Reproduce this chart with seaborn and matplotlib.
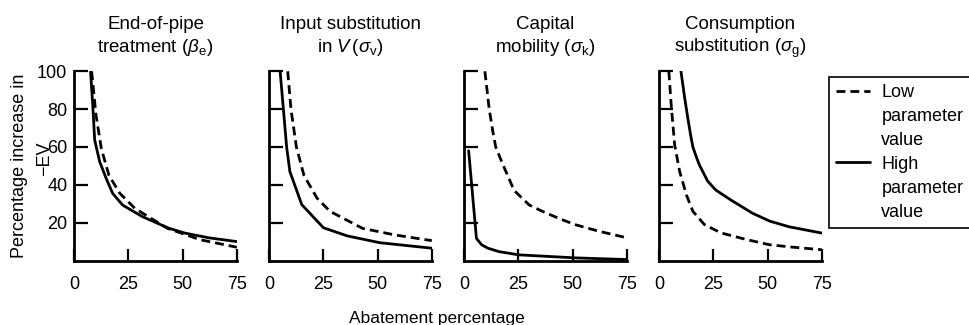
import matplotlib
matplotlib.use("Agg")
import matplotlib.pyplot as plt
from matplotlib.lines import Line2D
import seaborn as sns
import pandas as pd

# ---------------- data ----------------
panel_titles = [
    "End-of-pipe\ntreatment ($\\beta_\\mathrm{e}$)",
    "Input substitution\nin $V\\,(\\sigma_\\mathrm{v})$",
    "Capital\nmobility ($\\sigma_\\mathrm{k}$)",
    "Consumption\nsubstitution ($\\sigma_\\mathrm{g}$)",
]

# End-of-pipe treatment
p1_low_x = [8, 10, 12.5, 16, 21, 28, 43, 58, 75]
p1_low_y = [100, 77, 59, 45, 35.5, 27.5, 17, 11, 7]
p1_high_x = [7.5, 8.6, 9.4, 11.7, 14.7, 17.7, 22.3, 31.4, 43.5, 51, 62, 75]
p1_high_y = [100, 80.6, 63.7, 52.3, 43.4, 35.5, 29.3, 23.2, 17.1, 14.5, 12, 10]

# Input substitution in V
p2_low_x = [8.5, 10, 12.5, 16, 22, 28, 43, 58, 75]
p2_low_y = [100, 80, 60, 45, 33, 26, 17, 13.5, 10.5]
p2_high_x = [5, 6.5, 8, 9.5, 15, 25, 36, 51, 75]
p2_high_y = [100, 80, 60, 47, 29.5, 17.3, 13, 9.4, 6.5]

# Capital mobility
p3_low_x = [9.5, 11.5, 13.2, 14.5, 17.7, 23, 30, 36, 43.5, 51, 62, 75]
p3_low_y = [100, 80, 68, 60, 51, 37, 29.3, 26, 22.3, 19, 15.5, 12]
p3_high_x = [2, 5.6, 8, 10.9, 16, 25, 51, 75]
p3_high_y = [58, 11.7, 8.3, 6.5, 4.7, 3.0, 1.4, 0.5]

# Consumption substitution
p4_low_x = [4.4, 5.6, 7.1, 9.4, 12.5, 15.5, 20.8, 28.4, 40.5, 51, 62, 75]
p4_low_y = [100, 80.6, 61, 47, 34.7, 26, 19, 14.6, 11, 8.3, 7, 5.7]
p4_high_x = [10, 11.7, 13.2, 14.5, 15.5, 17, 18.5, 22.3, 26, 33, 43, 51, 60, 75]
p4_high_y = [100, 86, 75, 66, 60, 55, 50.5, 42, 37.3, 32, 25, 20.8, 17.8, 14.5]

x_ticks = [0, 25, 50, 75]
y_ticks = [20, 40, 60, 80, 100]
series_names = ["Low", "High"]

panels = [
    (p1_low_x, p1_low_y, p1_high_x, p1_high_y),
    (p2_low_x, p2_low_y, p2_high_x, p2_high_y),
    (p3_low_x, p3_low_y, p3_high_x, p3_high_y),
    (p4_low_x, p4_low_y, p4_high_x, p4_high_y),
]

rows = []
for i, (lx, ly, hx, hy) in enumerate(panels):
    for x, y in zip(lx, ly):
        rows.append({"panel": i, "series": "Low", "x": x, "y": y})
    for x, y in zip(hx, hy):
        rows.append({"panel": i, "series": "High", "x": x, "y": y})
df = pd.DataFrame(rows)

# ---------------- style ----------------
sns.set_theme(style="ticks")
plt.rcParams["font.family"] = ["Liberation Sans", "DejaVu Sans"]
plt.rcParams["mathtext.fontset"] = "custom"
plt.rcParams["mathtext.rm"] = "Liberation Sans"
plt.rcParams["mathtext.it"] = "Liberation Sans:italic"
plt.rcParams["mathtext.bf"] = "Liberation Sans:bold"
plt.rcParams["text.color"] = "black"
plt.rcParams["axes.labelcolor"] = "black"
plt.rcParams["xtick.color"] = "black"
plt.rcParams["ytick.color"] = "black"

FS = 13
W, H = 969, 325
fig = plt.figure(figsize=(W / 100, H / 100), dpi=100)
fig.patch.set_facecolor("white")

dash_pat = (3.2, 1.8)
LW = 2.0

for i in range(4):
    left = (74.3 + 195 * i) / W
    ax = fig.add_axes([left, (H - 260.5) / H, 162.5 / W, 189.2 / H])
    sub = df[df["panel"] == i]
    sns.lineplot(data=sub, x="x", y="y", style="series",
                 style_order=series_names,
                 dashes={"Low": dash_pat, "High": ""},
                 color="black", linewidth=LW, estimator=None, sort=False,
                 legend=False, ax=ax)
    ax.set_xlim(0, 75)
    ax.set_ylim(0, 100)
    ax.set_xticks(x_ticks)
    ax.set_xticklabels([str(t) for t in x_ticks], fontsize=FS)
    ax.set_yticks(y_ticks)
    if i == 0:
        ax.set_yticklabels([str(t) for t in y_ticks], fontsize=FS)
    else:
        ax.set_yticklabels([])
    ax.tick_params(direction="in", length=10, width=1.6, color="black",
                   pad=5, labelcolor="black")
    ax.tick_params(axis="x", length=9, pad=11)
    for s in ["top", "right"]:
        ax.spines[s].set_visible(False)
    for s in ["left", "bottom"]:
        ax.spines[s].set_linewidth(2.0)
        ax.spines[s].set_color("black")
    ax.set_xlabel("")
    ax.set_ylabel("")
    ax.set_title(panel_titles[i], fontsize=13.5, pad=14, linespacing=1.25,
                 color="black")
    ax.set_facecolor("white")

# y-axis label: two lines placed as in the reference
fig.text(20 / W, (H - 166) / H, "Percentage increase in",
         rotation=90, ha="center", va="center", fontsize=FS, color="black")
fig.text(45 / W, (H - 159) / H, "\u2212EV",
         rotation=90, ha="center", va="center", fontsize=FS, color="black")
fig.text(437 / W, 0.006, "Abatement percentage", ha="center",
         va="baseline", fontsize=12.5, color="black")

# legend (one entry per text line so the line samples sit on the first line)
blank = Line2D([], [], linestyle="none")
handles = [
    Line2D([], [], color="black", lw=LW, dashes=dash_pat),
    blank, blank,
    Line2D([], [], color="black", lw=LW),
    blank, blank,
]
labels = ["Low", "parameter", "value", "High", "parameter", "value"]
leg = fig.legend(handles, labels, loc="upper left",
                 bbox_to_anchor=(829 / W, (H - 77) / H),
                 borderaxespad=0, frameon=True, fancybox=False,
                 fontsize=FS, handlelength=1.85, handletextpad=0.65,
                 borderpad=0.4, labelspacing=0.38)
for t in leg.get_texts():
    t.set_color("black")
leg.get_frame().set_edgecolor("black")
leg.get_frame().set_linewidth(1.2)
leg.get_frame().set_facecolor("white")
leg.get_frame().set_alpha(1)

fig.savefig("out.png", dpi=100, facecolor="white")
